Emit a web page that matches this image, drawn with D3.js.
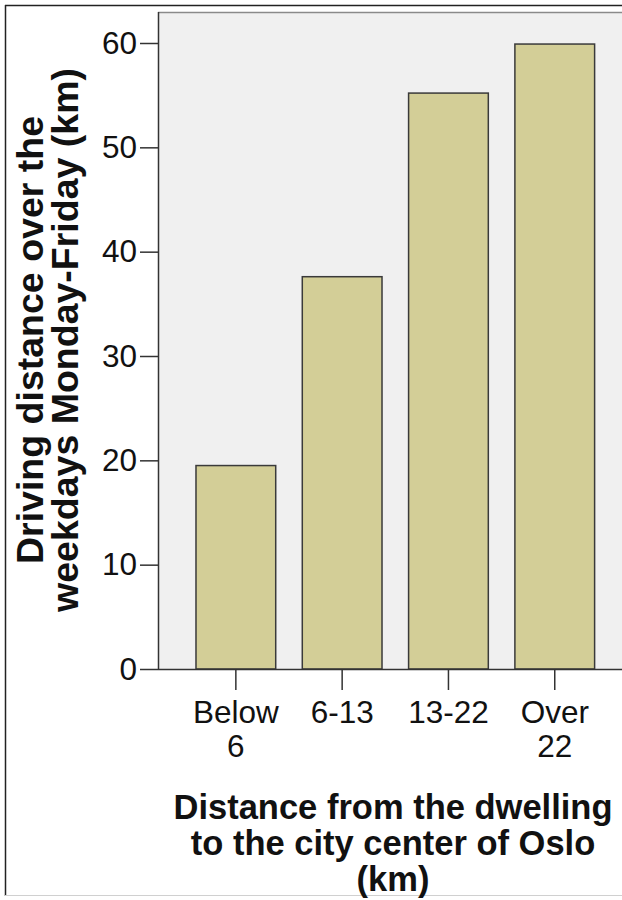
<!DOCTYPE html>
<html>
<head>
<meta charset="utf-8">
<script src="https://cdn.jsdelivr.net/npm/d3@7"></script>
<style>
  html, body { margin: 0; padding: 0; background: #fff; }
  svg { display: block; }
  text { font-family: Arial, "Liberation Sans", sans-serif; fill: #111; }
</style>
</head>
<body>
<script>
// ---- data ----
const categories = [["Below", "6"], ["6-13"], ["13-22"], ["Over", "22"]];
const values = [19.5, 37.6, 55.2, 59.9];
const yTicks = [0, 10, 20, 30, 40, 50, 60];
const yTitle = ["Driving distance over the", "weekdays Monday-Friday (km)"];
const xTitle = ["Distance from the dwelling", "to the city center of Oslo", "(km)"];

const W = 622, H = 900;
const svg = d3.select("body").append("svg").attr("width", W).attr("height", H);

// outer frame
svg.append("line").attr("x1", 5).attr("x2", W).attr("y1", 5.5).attr("y2", 5.5)
  .attr("stroke", "#222").attr("stroke-width", 1.5);
svg.append("line").attr("x1", 5.5).attr("x2", 5.5).attr("y1", 5).attr("y2", 896)
  .attr("stroke", "#222").attr("stroke-width", 1.5);
svg.append("line").attr("x1", 5).attr("x2", W).attr("y1", 895.5).attr("y2", 895.5)
  .attr("stroke", "#d0d0d0").attr("stroke-width", 1);

const plot = { left: 158, top: 12, right: W, bottom: 669 };

const x = d3.scaleBand()
  .domain(d3.range(categories.length))
  .range([182.7, 607.9])
  .paddingInner(0.25)
  .paddingOuter(0.125);

const y = d3.scaleLinear().domain([0, 60]).range([669, 43]);

// plot background
svg.append("rect")
  .attr("x", plot.left).attr("y", plot.top)
  .attr("width", plot.right - plot.left).attr("height", plot.bottom - plot.top)
  .attr("fill", "#f0f0f0");

// bars
svg.append("g").selectAll("rect").data(values).join("rect")
  .attr("x", (d, i) => x(i))
  .attr("y", d => y(d))
  .attr("width", x.bandwidth())
  .attr("height", d => y(0) - y(d))
  .attr("fill", "#d3ce97")
  .attr("stroke", "#3a3a3a")
  .attr("stroke-width", 1.5);

// plot frame top line
svg.append("line").attr("x1", plot.left).attr("x2", plot.right)
  .attr("y1", plot.top + 0.5).attr("y2", plot.top + 0.5)
  .attr("stroke", "#8a8a8a").attr("stroke-width", 1.5);

// y axis
const yAxis = d3.axisLeft(y).tickValues(yTicks).tickSize(18).tickPadding(3).tickSizeOuter(0);
const gy = svg.append("g").attr("transform", `translate(${plot.left},0)`).call(yAxis);
gy.select(".domain").attr("d", `M0.5,${plot.top}V${plot.bottom}`).attr("stroke", "#333").attr("stroke-width", 1.5);
gy.selectAll(".tick line").attr("stroke", "#333").attr("stroke-width", 1.5);
gy.selectAll(".tick text").attr("font-size", 31.5).attr("fill", "#111")
  .attr("font-family", "Arial, 'Liberation Sans', sans-serif");

// x axis
const gx = svg.append("g").attr("transform", `translate(0,${plot.bottom})`)
  .call(d3.axisBottom(x).tickSize(21).tickSizeOuter(0).tickFormat(() => ""));
gx.select(".domain").attr("d", `M${plot.left},0.5H${plot.right}`).attr("stroke", "#333").attr("stroke-width", 1.5);
gx.selectAll(".tick line").attr("stroke", "#333").attr("stroke-width", 1.5);
gx.selectAll(".tick text").remove();
gx.selectAll(".tick").each(function(d) {
  const t = d3.select(this).append("text")
    .attr("text-anchor", "middle")
    .attr("font-size", 31.5)
    .attr("fill", "#111")
    .attr("font-family", "Arial, 'Liberation Sans', sans-serif");
  categories[d].forEach((line, k) => {
    t.append("tspan").attr("x", 0).attr("y", 54 + k * 34).text(line);
  });
});

// y title
const yt = svg.append("text")
  .attr("transform", "translate(0,340) rotate(-90)")
  .attr("text-anchor", "middle")
  .attr("font-weight", "bold")
  .attr("font-size", 37.5);
yTitle.forEach((line, k) => {
  yt.append("tspan").attr("x", 0).attr("y", 43 + k * 35).text(line);
});

// x title
const xt = svg.append("text")
  .attr("text-anchor", "middle")
  .attr("font-weight", "bold")
  .attr("font-size", 34.5);
xTitle.forEach((line, k) => {
  xt.append("tspan").attr("x", 393).attr("y", 819 + k * 36).text(line);
});
</script>
</body>
</html>
